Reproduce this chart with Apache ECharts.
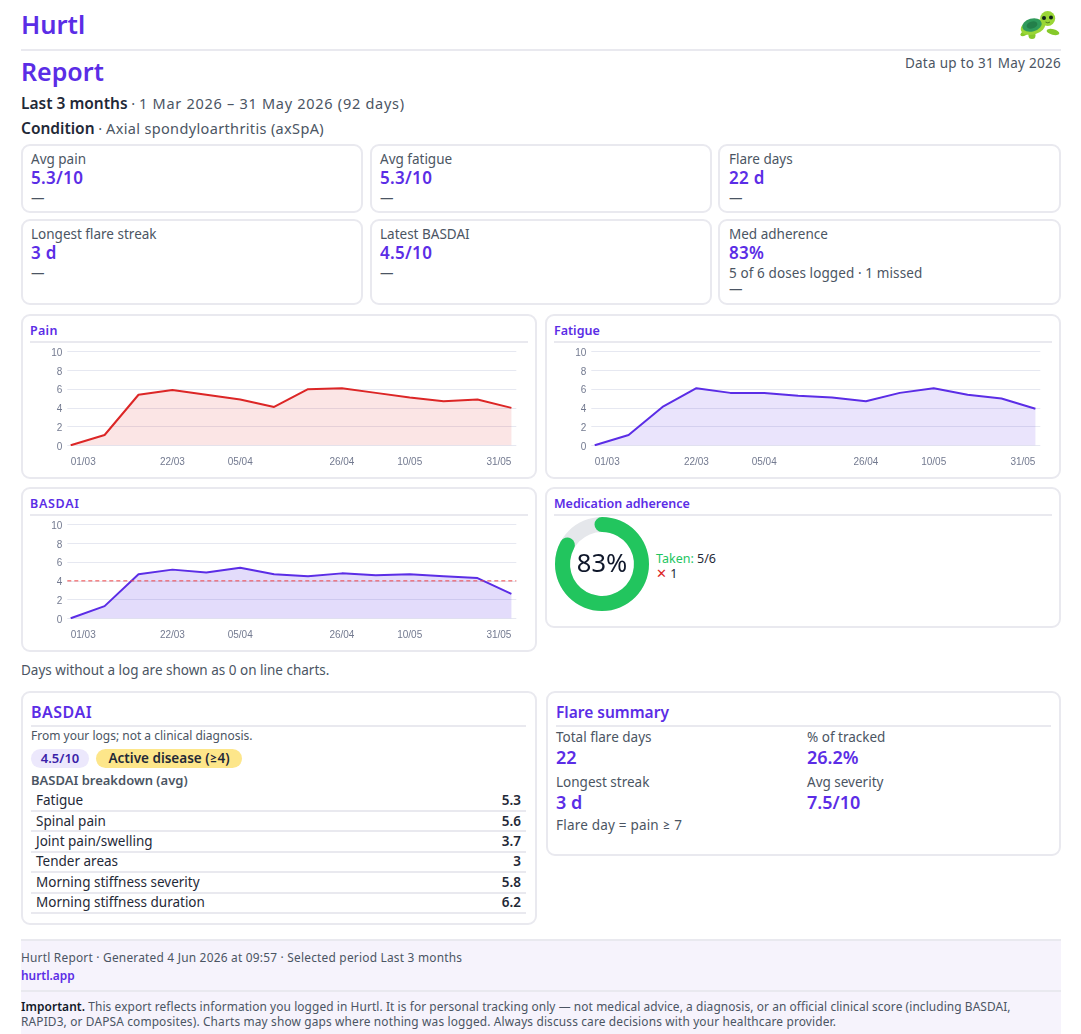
<!DOCTYPE html>
<html lang="en">
<head>
<meta charset="utf-8">
<title>Hurtl Report</title>
<script src="https://cdn.jsdelivr.net/npm/echarts@6/dist/echarts.min.js"></script>
<style>
  html, body { margin: 0; padding: 0; background: #fff; }
  body { width: 1081px; height: 1034px; position: relative; overflow: hidden;
         font-family: "Noto Sans", Lato, sans-serif; color: #4b5563; }
  .t { position: absolute; white-space: nowrap; height: 20px; line-height: 20px; font-size: 13.5px; }
  .p { color: #5b2de6; }
  .b { font-weight: 600; }
  .d { color: #1f2937; }
  .card { position: absolute; box-sizing: border-box; border: 2px solid #e9e9ef; border-radius: 9px; background: #fff; }
  .rule { position: absolute; height: 2px; background: #e9e9ef; }
  .chart { position: absolute; }
  .val { font-size: 17px; font-weight: 600; color: #5b2de6; letter-spacing: .3px; }
  .big { font-size: 18px; letter-spacing: 0; }
  .head { font-size: 12.5px; font-weight: 600; color: #5b2de6; }
  .pill { position: absolute; height: 19px; line-height: 19px; border-radius: 10px; font-weight: 600; font-size: 13px; text-align: center; }
  #foot { position: absolute; left: 21px; top: 940px; width: 1040px; height: 94px; background: #f6f3fc; }
  .f { font-size: 11.9px; }
  .g { color: #4b5563; }
</style>
</head>
<body>
<div class="t p b" style="left:21px;top:14px;font-size:25.500px">Hurtl</div>
<svg style="position:absolute;left:1020px;top:10px" width="40" height="30" viewBox="0 0 40 30">
  <ellipse cx="5" cy="23" rx="5" ry="2.400" fill="#86c92a" transform="rotate(-28 5 23)"/>
  <ellipse cx="12" cy="25.500" rx="3.500" ry="3.500" fill="#86c92a"/>
  <ellipse cx="33" cy="22" rx="6.500" ry="2.800" fill="#86c92a" transform="rotate(14 33 22)"/>
  <ellipse cx="13" cy="17" rx="12.500" ry="7.500" fill="#9ad636" transform="rotate(-16 13 17)"/>
  <ellipse cx="12" cy="15" rx="10" ry="6.500" fill="#2f9a5c" transform="rotate(-16 12 15)"/>
  <ellipse cx="12" cy="15" rx="5.500" ry="3.500" fill="#237f4a" transform="rotate(-16 12 15)"/>
  <circle cx="27.700" cy="8.500" r="7.500" fill="#9ad636"/>
  <circle cx="24" cy="8" r="2" fill="#10231a"/>
  <circle cx="31" cy="7.500" r="2" fill="#10231a"/>
  <path d="M25.500 12q2.500 1.800 4.500 0" stroke="#3d6a16" stroke-width=".8" fill="none"/>
</svg>
<div class="rule" style="left:21px;top:49px;width:1040px"></div>
<div class="t p b" style="left:21px;top:61px;font-size:25px">Report</div>
<div class="t" style="right:20px;top:53px;letter-spacing:.27px">Data up to 31 May 2026</div>
<div class="t" style="left:21px;top:93px;font-size:14.500px"><span class="b d" style="font-size:15.500px">Last 3 months</span> · <span style="letter-spacing:.72px">1 Mar 2026 – 31 May 2026 (92 days)</span></div>
<div class="t" style="left:21px;top:118px;font-size:14.500px"><span class="b d" style="font-size:15.500px">Condition</span> · <span style="letter-spacing:.35px">Axial spondyloarthritis (axSpA)</span></div>

<div class="card" style="left:21px;top:144px;width:342px;height:69px"></div>
<div class="card" style="left:370px;top:144px;width:342px;height:69px"></div>
<div class="card" style="left:718px;top:144px;width:343px;height:69px"></div>
<div class="card" style="left:21px;top:219px;width:342px;height:86px"></div>
<div class="card" style="left:370px;top:219px;width:342px;height:86px"></div>
<div class="card" style="left:718px;top:219px;width:343px;height:86px"></div>

<div class="t" style="left:31px;top:149px">Avg pain</div>
<div class="t val" style="left:31px;top:168px">5.3/10</div>
<div class="t" style="left:31px;top:188px">—</div>
<div class="t" style="left:380px;top:149px">Avg fatigue</div>
<div class="t val" style="left:380px;top:168px">5.3/10</div>
<div class="t" style="left:380px;top:188px">—</div>
<div class="t" style="left:729px;top:149px">Flare days</div>
<div class="t val" style="left:729px;top:168px">22 d</div>
<div class="t" style="left:729px;top:188px">—</div>
<div class="t" style="left:31px;top:224px">Longest flare streak</div>
<div class="t val" style="left:31px;top:243px">3 d</div>
<div class="t" style="left:31px;top:263px">—</div>
<div class="t" style="left:380px;top:224px">Latest BASDAI</div>
<div class="t val" style="left:380px;top:243px">4.5/10</div>
<div class="t" style="left:380px;top:263px">—</div>
<div class="t" style="left:729px;top:224px">Med adherence</div>
<div class="t val" style="left:729px;top:243px">83%</div>
<div class="t" style="left:729px;top:263px;letter-spacing:.1px">5 of 6 doses logged · 1 missed</div>
<div class="t" style="left:729px;top:279px">—</div>

<div class="card" style="left:21px;top:314px;width:516px;height:165px"></div>
<div class="card" style="left:545px;top:314px;width:516px;height:165px"></div>
<div class="card" style="left:21px;top:487px;width:516px;height:165px"></div>
<div class="card" style="left:545px;top:487px;width:516px;height:141px"></div>

<div class="t head" style="left:30px;top:321px;letter-spacing:.3px">Pain</div>
<div class="rule" style="left:30px;top:341px;width:498px"></div>
<div class="t head" style="left:554px;top:321px">Fatigue</div>
<div class="rule" style="left:554px;top:341px;width:498px"></div>
<div class="t head" style="left:30px;top:494px;letter-spacing:.7px">BASDAI</div>
<div class="rule" style="left:30px;top:514px;width:498px"></div>
<div class="t head" style="left:554px;top:494px">Medication adherence</div>
<div class="rule" style="left:554px;top:514px;width:498px"></div>

<div class="chart" id="painChart" style="left:21px;top:345px;width:515px;height:130px"></div>
<div class="chart" id="fatigueChart" style="left:545px;top:345px;width:515px;height:130px"></div>
<div class="chart" id="basdaiChart" style="left:21px;top:518px;width:515px;height:130px"></div>
<div class="chart" id="adherenceChart" style="left:548px;top:512px;width:108px;height:104px"></div>
<div class="t" style="left:656px;top:549px;font-size:12.500px"><span style="color:#22c55e">Taken:</span> <span class="d">5/6</span></div>
<div class="t" style="left:656px;top:564px;font-size:12.500px"><span style="color:#dc2626">✕</span> <span class="d">1</span></div>

<div class="t" style="left:21px;top:660px">Days without a log are shown as 0 on line charts.</div>

<div class="card" style="left:21px;top:691px;width:516px;height:234px"></div>
<div class="t p b" style="left:31px;top:702px;font-size:16px;letter-spacing:.5px">BASDAI</div>
<div class="rule" style="left:31px;top:725px;width:495px"></div>
<div class="t" style="left:31px;top:726px;font-size:12px">From your logs; not a clinical diagnosis.</div>
<div class="pill" style="left:31px;top:749px;width:58px;background:#ece8fc;color:#3b1fa8">4.5/10</div>
<div class="pill" style="left:96px;top:749px;width:146px;background:#fde68a;color:#1f2937;font-size:13.500px">Active disease (≥4)</div>
<div class="t b" style="left:31px;top:770px;font-size:13px">BASDAI breakdown (avg)</div>
<div id="breakdown"></div>

<div class="card" style="left:546px;top:691px;width:515px;height:165px"></div>
<div class="t p b" style="left:556px;top:702px;font-size:15.500px">Flare summary</div>
<div class="rule" style="left:556px;top:725px;width:495px"></div>
<div class="t" style="left:556px;top:727px">Total flare days</div>
<div class="t val big" style="left:556px;top:747px">22</div>
<div class="t" style="left:807px;top:727px">% of tracked</div>
<div class="t val big" style="left:807px;top:747px">26.2%</div>
<div class="t" style="left:556px;top:772px">Longest streak</div>
<div class="t val big" style="left:556px;top:792px">3 d</div>
<div class="t" style="left:807px;top:772px">Avg severity</div>
<div class="t val big" style="left:807px;top:792px">7.5/10</div>
<div class="t" style="left:556px;top:815px;letter-spacing:.2px">Flare day = pain ≥ 7</div>

<div id="foot"></div>
<div class="rule" style="left:21px;top:939px;width:1040px"></div>
<div class="rule" style="left:21px;top:990px;width:1040px"></div>
<div class="t f g" style="left:21px;top:947px;letter-spacing:.22px">Hurtl Report · Generated 4 Jun 2026 at 09:57 · Selected period Last 3 months</div>
<div class="t f b p" style="left:21px;top:965px">hurtl.app</div>
<div class="t f g" style="left:21px;top:996px;letter-spacing:.09px"><span class="b" style="color:#111827">Important.</span> This export reflects information you logged in Hurtl. It is for personal tracking only — not medical advice, a diagnosis, or an official clinical score (including BASDAI,</div>
<div class="t f g" style="left:21px;top:1011px;letter-spacing:.15px">RAPID3, or DAPSA composites). Charts may show gaps where nothing was logged. Always discuss care decisions with your healthcare provider.</div>

<script>
// Weekly averages over the reporting period
const weeks = ['01/03','08/03','15/03','22/03','29/03','05/04','12/04','19/04','26/04','03/05','10/05','17/05','24/05','31/05'];
const shownWeeks = ['01/03','22/03','05/04','26/04','10/05','31/05'];
const painValues = [0,1.1,5.4,5.9,5.4,4.9,4.1,6.0,6.1,5.6,5.1,4.7,4.9,4.0];
const fatigueValues = [0,1.1,4.1,6.1,5.6,5.6,5.3,5.1,4.7,5.6,6.1,5.4,5.0,3.9];
const basdaiValues = [0,1.3,4.7,5.2,4.9,5.4,4.7,4.5,4.8,4.6,4.7,4.5,4.3,2.6];
const basdaiThreshold = 4;
const adherencePercent = 83;

// BASDAI component averages for the table
const breakdownLabels = ['Fatigue','Spinal pain','Joint pain/swelling','Tender areas','Morning stiffness severity','Morning stiffness duration'];
const breakdownValues = ['5.3','5.6','3.7','3','5.8','6.2'];

const breakdown = document.getElementById('breakdown');
const rowCentres = [800, 820.5, 841, 861, 882, 902];
breakdownLabels.forEach((label, i) => {
  breakdown.insertAdjacentHTML('beforeend',
    `<div class="t d" style="left:36px;top:${rowCentres[i]-10}px">${label}</div>` +
    `<div class="t d b" style="right:560px;top:${rowCentres[i]-10}px">${breakdownValues[i]}</div>` +
    `<div class="rule" style="left:31px;top:${810 + i * 20.4}px;width:495px"></div>`);
});

const LABEL = '"Liberation Sans", Arial, sans-serif';

function lineChart(id, values, color, fill, threshold) {
  const series = [{
    type: 'line', xAxisIndex: 1, yAxisIndex: 1, data: values, symbol: 'none',
    lineStyle: { color, width: 2 }, itemStyle: { color },
    areaStyle: { color: fill, opacity: 1 }, silent: true, z: 3
  }];
  if (threshold !== undefined) {
    series.push({
      type: 'line', xAxisIndex: 0, yAxisIndex: 0,
      data: [[0, threshold], [1, threshold]], symbol: 'none', silent: true, z: 4,
      lineStyle: { color: '#ef4444', width: 1, type: [4, 3] }
    });
  }
  echarts.init(document.getElementById(id)).setOption({
    animation: false,
    // The outer grid carries the gridlines, the inset grid carries the data
    grid: [
      { left: 46.3, top: 6.7, width: 449, height: 93.6 },
      { left: 49.7, top: 6.7, width: 440.7, height: 93.6 }
    ],
    xAxis: [
      { gridIndex: 0, type: 'value', min: 0, max: 1, show: false },
      { gridIndex: 1, type: 'category', boundaryGap: false, data: weeks,
        axisLine: { show: false }, axisTick: { show: false },
        axisLabel: {
          color: '#737a90', fontFamily: LABEL, fontSize: 10, margin: 12,
          interval: (i, name) => shownWeeks.includes(name),
          alignMinLabel: 'left', alignMaxLabel: 'right'
        } }
    ],
    yAxis: [
      { gridIndex: 0, type: 'value', min: 0, max: 10, interval: 2,
        axisLine: { show: false }, axisTick: { show: false },
        axisLabel: { color: '#737a90', fontFamily: LABEL, fontSize: 10, margin: 5, verticalAlign: 'top', lineHeight: 3 },
        splitLine: { lineStyle: { color: '#e6e8f1', width: 1 } } },
      { gridIndex: 1, type: 'value', min: 0, max: 10, show: false }
    ],
    series
  });
}

lineChart('painChart', painValues, '#dc2626', 'rgba(220,38,38,0.12)');
lineChart('fatigueChart', fatigueValues, '#5b2de6', 'rgba(91,45,230,0.13)');
lineChart('basdaiChart', basdaiValues, '#5b2de6', 'rgba(91,45,230,0.17)', basdaiThreshold);

echarts.init(document.getElementById('adherenceChart')).setOption({
  animation: false,
  series: [{
    type: 'gauge', center: [54, 52], radius: 47, startAngle: 90, endAngle: -270,
    min: 0, max: 100, silent: true,
    pointer: { show: false }, axisTick: { show: false }, splitLine: { show: false }, axisLabel: { show: false },
    axisLine: { lineStyle: { width: 15, color: [[1, '#e5e7eb']] } },
    progress: { show: true, width: 15, roundCap: true, itemStyle: { color: '#22c55e' } },
    title: { show: false },
    detail: { valueAnimation: false, formatter: '{value}%', offsetCenter: [0, 1],
              color: '#0f172a', fontSize: 25.5, fontWeight: 400, fontFamily: '"Noto Sans", sans-serif' },
    data: [{ value: adherencePercent }]
  }]
});
</script>
</body>
</html>
